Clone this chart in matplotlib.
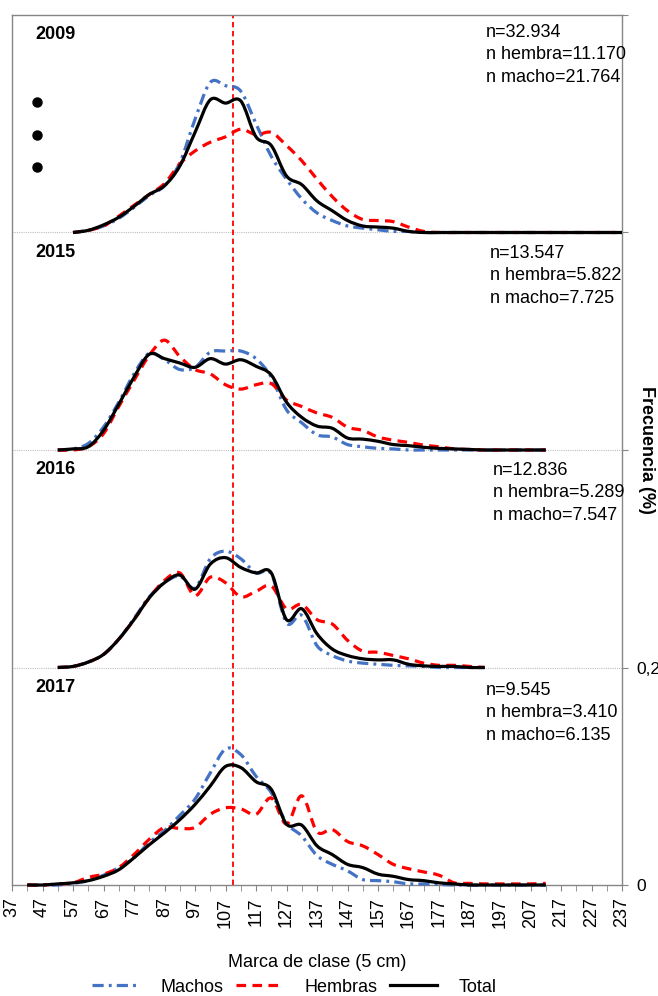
import numpy as np
import matplotlib
matplotlib.use('Agg')
import matplotlib.pyplot as plt
from matplotlib.path import Path
from matplotlib.patches import PathPatch
from matplotlib.lines import Line2D

plt.rcParams['font.family'] = ['Liberation Sans', 'DejaVu Sans']

# clases (5 cm)
x_ticks = [37, 47, 57, 67, 77, 87, 97, 107, 117, 127, 137, 147, 157, 167, 177,
           187, 197, 207, 217, 227, 237]
x_minor = [42, 52, 62, 72, 82, 92, 102, 112, 122, 132, 142, 152, 162, 172, 182,
           192, 202, 212, 222, 232]

# 2009: clases 57 .. 237
x09 = [57, 62, 67, 72, 77, 82, 87, 92, 97, 102, 107, 112, 117, 122, 127, 132, 137,
       142, 147, 152, 157, 162, 167, 172, 177, 182, 187, 192, 197, 202, 207, 212,
       217, 222, 227, 232, 237]
machos09 = [0, 0.002, 0.006, 0.013, 0.023, 0.034, 0.043, 0.064, 0.104, 0.138, 0.135,
            0.130, 0.100, 0.070, 0.049, 0.031, 0.018, 0.011, 0.006, 0.004, 0.0025,
            0.001, 0.001, 0, 0, 0, 0, 0, 0, 0, 0, 0, 0, 0, 0, 0, 0]
hembras09 = [0, 0.002, 0.006, 0.015, 0.025, 0.035, 0.045, 0.063, 0.075, 0.083, 0.088,
             0.095, 0.090, 0.092, 0.080, 0.066, 0.049, 0.033, 0.020, 0.012, 0.011,
             0.010, 0.005, 0.001, 0, 0, 0, 0, 0, 0, 0, 0, 0, 0, 0, 0, 0]
total09 = [0, 0.002, 0.007, 0.014, 0.024, 0.035, 0.043, 0.061, 0.092, 0.122, 0.119,
           0.121, 0.088, 0.080, 0.052, 0.044, 0.029, 0.020, 0.011, 0.006, 0.005,
           0.004, 0.001, 0, 0, 0, 0, 0, 0, 0, 0, 0, 0, 0, 0, 0, 0]

# 2015: clases 52 .. 212
x15 = [52, 57, 62, 67, 72, 77, 82, 87, 92, 97, 102, 107, 112, 117, 122, 127, 132,
       137, 142, 147, 152, 157, 162, 167, 172, 177, 182, 187, 192, 197, 202, 207, 212]
machos15 = [0, 0.001, 0.006, 0.021, 0.044, 0.070, 0.089, 0.083, 0.074, 0.076, 0.090,
            0.091, 0.091, 0.084, 0.067, 0.037, 0.025, 0.014, 0.012, 0.005, 0.003,
            0.0015, 0.001, 0, 0, 0, 0, 0, 0, 0, 0, 0, 0]
hembras15 = [0, 0, 0.003, 0.015, 0.040, 0.064, 0.087, 0.101, 0.086, 0.074, 0.070,
             0.060, 0.056, 0.060, 0.061, 0.046, 0.040, 0.034, 0.030, 0.021, 0.018,
             0.012, 0.009, 0.007, 0.0045, 0.003, 0.001, 0.0005, 0, 0, 0, 0, 0]
total15 = [0, 0.001, 0.003, 0.018, 0.042, 0.067, 0.088, 0.084, 0.080, 0.076, 0.084,
           0.079, 0.083, 0.077, 0.069, 0.044, 0.030, 0.022, 0.020, 0.011, 0.010,
           0.008, 0.005, 0.004, 0.0025, 0.0015, 0.001, 0.0005, 0, 0, 0, 0, 0]

# 2016: clases 52 .. 192
x16 = [52, 57, 62, 67, 72, 77, 82, 87, 92, 97, 102, 107, 112, 117, 122, 127, 132,
       137, 142, 147, 152, 157, 162, 167, 172, 177, 182, 187, 192]
machos16 = [0, 0.001, 0.005, 0.012, 0.026, 0.045, 0.065, 0.078, 0.084, 0.073, 0.100,
            0.107, 0.100, 0.087, 0.086, 0.041, 0.048, 0.020, 0.011, 0.006, 0.004,
            0.003, 0.002, 0.0015, 0.001, 0, 0, 0, 0]
hembras16 = [0, 0.001, 0.005, 0.012, 0.026, 0.044, 0.064, 0.080, 0.087, 0.066, 0.083,
             0.078, 0.065, 0.070, 0.075, 0.054, 0.058, 0.044, 0.040, 0.025, 0.015,
             0.014, 0.011, 0.008, 0.004, 0.002, 0.002, 0.001, 0]
total16 = [0, 0.001, 0.005, 0.012, 0.026, 0.044, 0.064, 0.078, 0.085, 0.072, 0.095,
           0.101, 0.092, 0.087, 0.087, 0.044, 0.054, 0.031, 0.017, 0.011, 0.008,
           0.007, 0.007, 0.003, 0.0015, 0.001, 0.001, 0, 0]

# 2017: clases 42 .. 212
x17 = [42, 47, 52, 57, 62, 67, 72, 77, 82, 87, 92, 97, 102, 107, 112, 117, 122, 127,
       132, 137, 142, 147, 152, 157, 162, 167, 172, 177, 182, 187, 192, 197, 202, 207, 212]
machos17 = [0, 0, 0, 0.0015, 0.004, 0.009, 0.016, 0.025, 0.039, 0.050, 0.064, 0.079,
            0.103, 0.125, 0.120, 0.100, 0.085, 0.057, 0.045, 0.027, 0.019, 0.013,
            0.005, 0.004, 0.003, 0.001, 0.001, 0.0005, 0, 0, 0, 0, 0, 0, 0]
hembras17 = [0, 0, 0.001, 0.002, 0.007, 0.010, 0.016, 0.028, 0.042, 0.053, 0.052,
             0.053, 0.065, 0.071, 0.070, 0.065, 0.080, 0.056, 0.082, 0.049, 0.051,
             0.040, 0.036, 0.028, 0.019, 0.015, 0.012, 0.009, 0.002, 0.0015, 0.001,
             0.001, 0.001, 0.001, 0.0015]
total17 = [0, 0, 0.001, 0.002, 0.004, 0.008, 0.014, 0.025, 0.037, 0.048, 0.060, 0.074,
           0.091, 0.109, 0.108, 0.095, 0.088, 0.056, 0.055, 0.036, 0.028, 0.019,
           0.016, 0.010, 0.008, 0.005, 0.004, 0.002, 0.001, 0, 0, 0, 0, 0, 0]

years = ['2009', '2015', '2016', '2017']
bases = [0.6, 0.4, 0.2, 0.0]
n_texts = ['n=32.934\nn hembra=11.170\nn macho=21.764',
           'n=13.547\nn hembra=5.822\nn macho=7.725',
           'n=12.836\nn hembra=5.289\nn macho=7.547',
           'n=9.545\nn hembra=3.410\nn macho=6.135']
n_text_x = [192.4, 193.7, 194.7, 192.4]
n_text_top = [0.192, 0.1885, 0.189, 0.187]
panels = [(x09, machos09, hembras09, total09),
          (x15, machos15, hembras15, total15),
          (x16, machos16, hembras16, total16),
          (x17, machos17, hembras17, total17)]

dots_x = [45.2, 45.2, 45.2]
dots_y = [0.720, 0.690, 0.660]
talla_ref = 109.3

c_machos = '#4472C4'
c_hembras = '#FF0000'
c_total = '#000000'
ls_machos = (0, (3.5, 1.6, 0.9, 1.6))
ls_hembras = (0, (3.0, 2.0))


def smooth_path(x, y):
    # suavizado tipo Excel (Catmull-Rom -> Bezier)
    pts = np.column_stack([x, y]).astype(float)
    verts = [pts[0]]
    codes = [Path.MOVETO]
    n = len(pts)
    for i in range(n - 1):
        p0 = pts[max(i - 1, 0)]
        p1 = pts[i]
        p2 = pts[i + 1]
        p3 = pts[min(i + 2, n - 1)]
        verts += [p1 + (p2 - p0) / 6, p2 - (p3 - p1) / 6, p2]
        codes += [Path.CURVE4] * 3
    return Path(verts, codes)


fig = plt.figure(figsize=(6.58, 9.96), dpi=100)
ax = fig.add_axes([12 / 658, 111 / 996, 610 / 658, 870 / 996])
ax.set_xlim(37, 237)
ax.set_ylim(0, 0.8)

for b in bases[:-1]:
    ax.axhline(b, color='#BFBFBF', lw=0.8, ls=(0, (1, 1)), zorder=1)

ax.axvline(talla_ref, color=c_hembras, lw=1.3, ls=(0, (3, 2)), zorder=2)

for (xs, m, h, t), base in zip(panels, bases):
    for vals, col, ls in [(m, c_machos, ls_machos), (h, c_hembras, ls_hembras),
                          (t, c_total, '-')]:
        p = smooth_path(xs, np.array(vals) + base)
        ax.add_patch(PathPatch(p, fill=False, edgecolor=col, lw=2.3, linestyle=ls,
                               capstyle='butt', joinstyle='round', zorder=3,
                               clip_on=False))

for yr, base, txt, tx, tt in zip(years, bases, n_texts, n_text_x, n_text_top):
    ax.text(44.5, base + 0.182, yr, fontsize=13, fontweight='bold', ha='left', va='center')
    ax.text(tx, base + tt, txt, fontsize=13, ha='left', va='top', linespacing=1.42)

ax.plot(dots_x, dots_y, 'o', color='black', ms=6.5, clip_on=False)

# ejes
ax.set_xticks(x_ticks)
ax.set_xticklabels([str(v) for v in x_ticks], rotation=90, fontsize=13)
ax.set_xticks(x_minor, minor=True)
ax.tick_params(axis='x', which='both', direction='out', length=4, color='#868686', pad=5)

ax.yaxis.tick_right()
ax.set_yticks([0, 0.2, 0.4, 0.6, 0.8])
ax.set_yticklabels(['0', '0,2', '', '', ''], fontsize=12.5)
ax.tick_params(axis='y', direction='out', length=4, color='#868686', pad=6)

for s in ax.spines.values():
    s.set_color('#868686')
    s.set_linewidth(1)

fig.text(317 / 658, 1 - 962 / 996, 'Marca de clase (5 cm)', fontsize=13,
         ha='center', va='center')
fig.text(646 / 658, 1 - 450 / 996, 'Frecuencia (%)', fontsize=13, fontweight='bold',
         ha='center', va='center', rotation=270)

handles = [Line2D([], [], color=c_machos, lw=2.3, ls=ls_machos),
           Line2D([], [], color=c_hembras, lw=2.3, ls=ls_hembras),
           Line2D([], [], color=c_total, lw=2.3)]
fig.legend(handles, ['Machos', 'Hembras', 'Total'], loc='center', ncol=3,
           bbox_to_anchor=(0.4475, 1 - 987 / 996), frameon=False, fontsize=13,
           handlelength=2.6, handletextpad=1.2, columnspacing=0.7)

fig.savefig('out.png', dpi=100)
